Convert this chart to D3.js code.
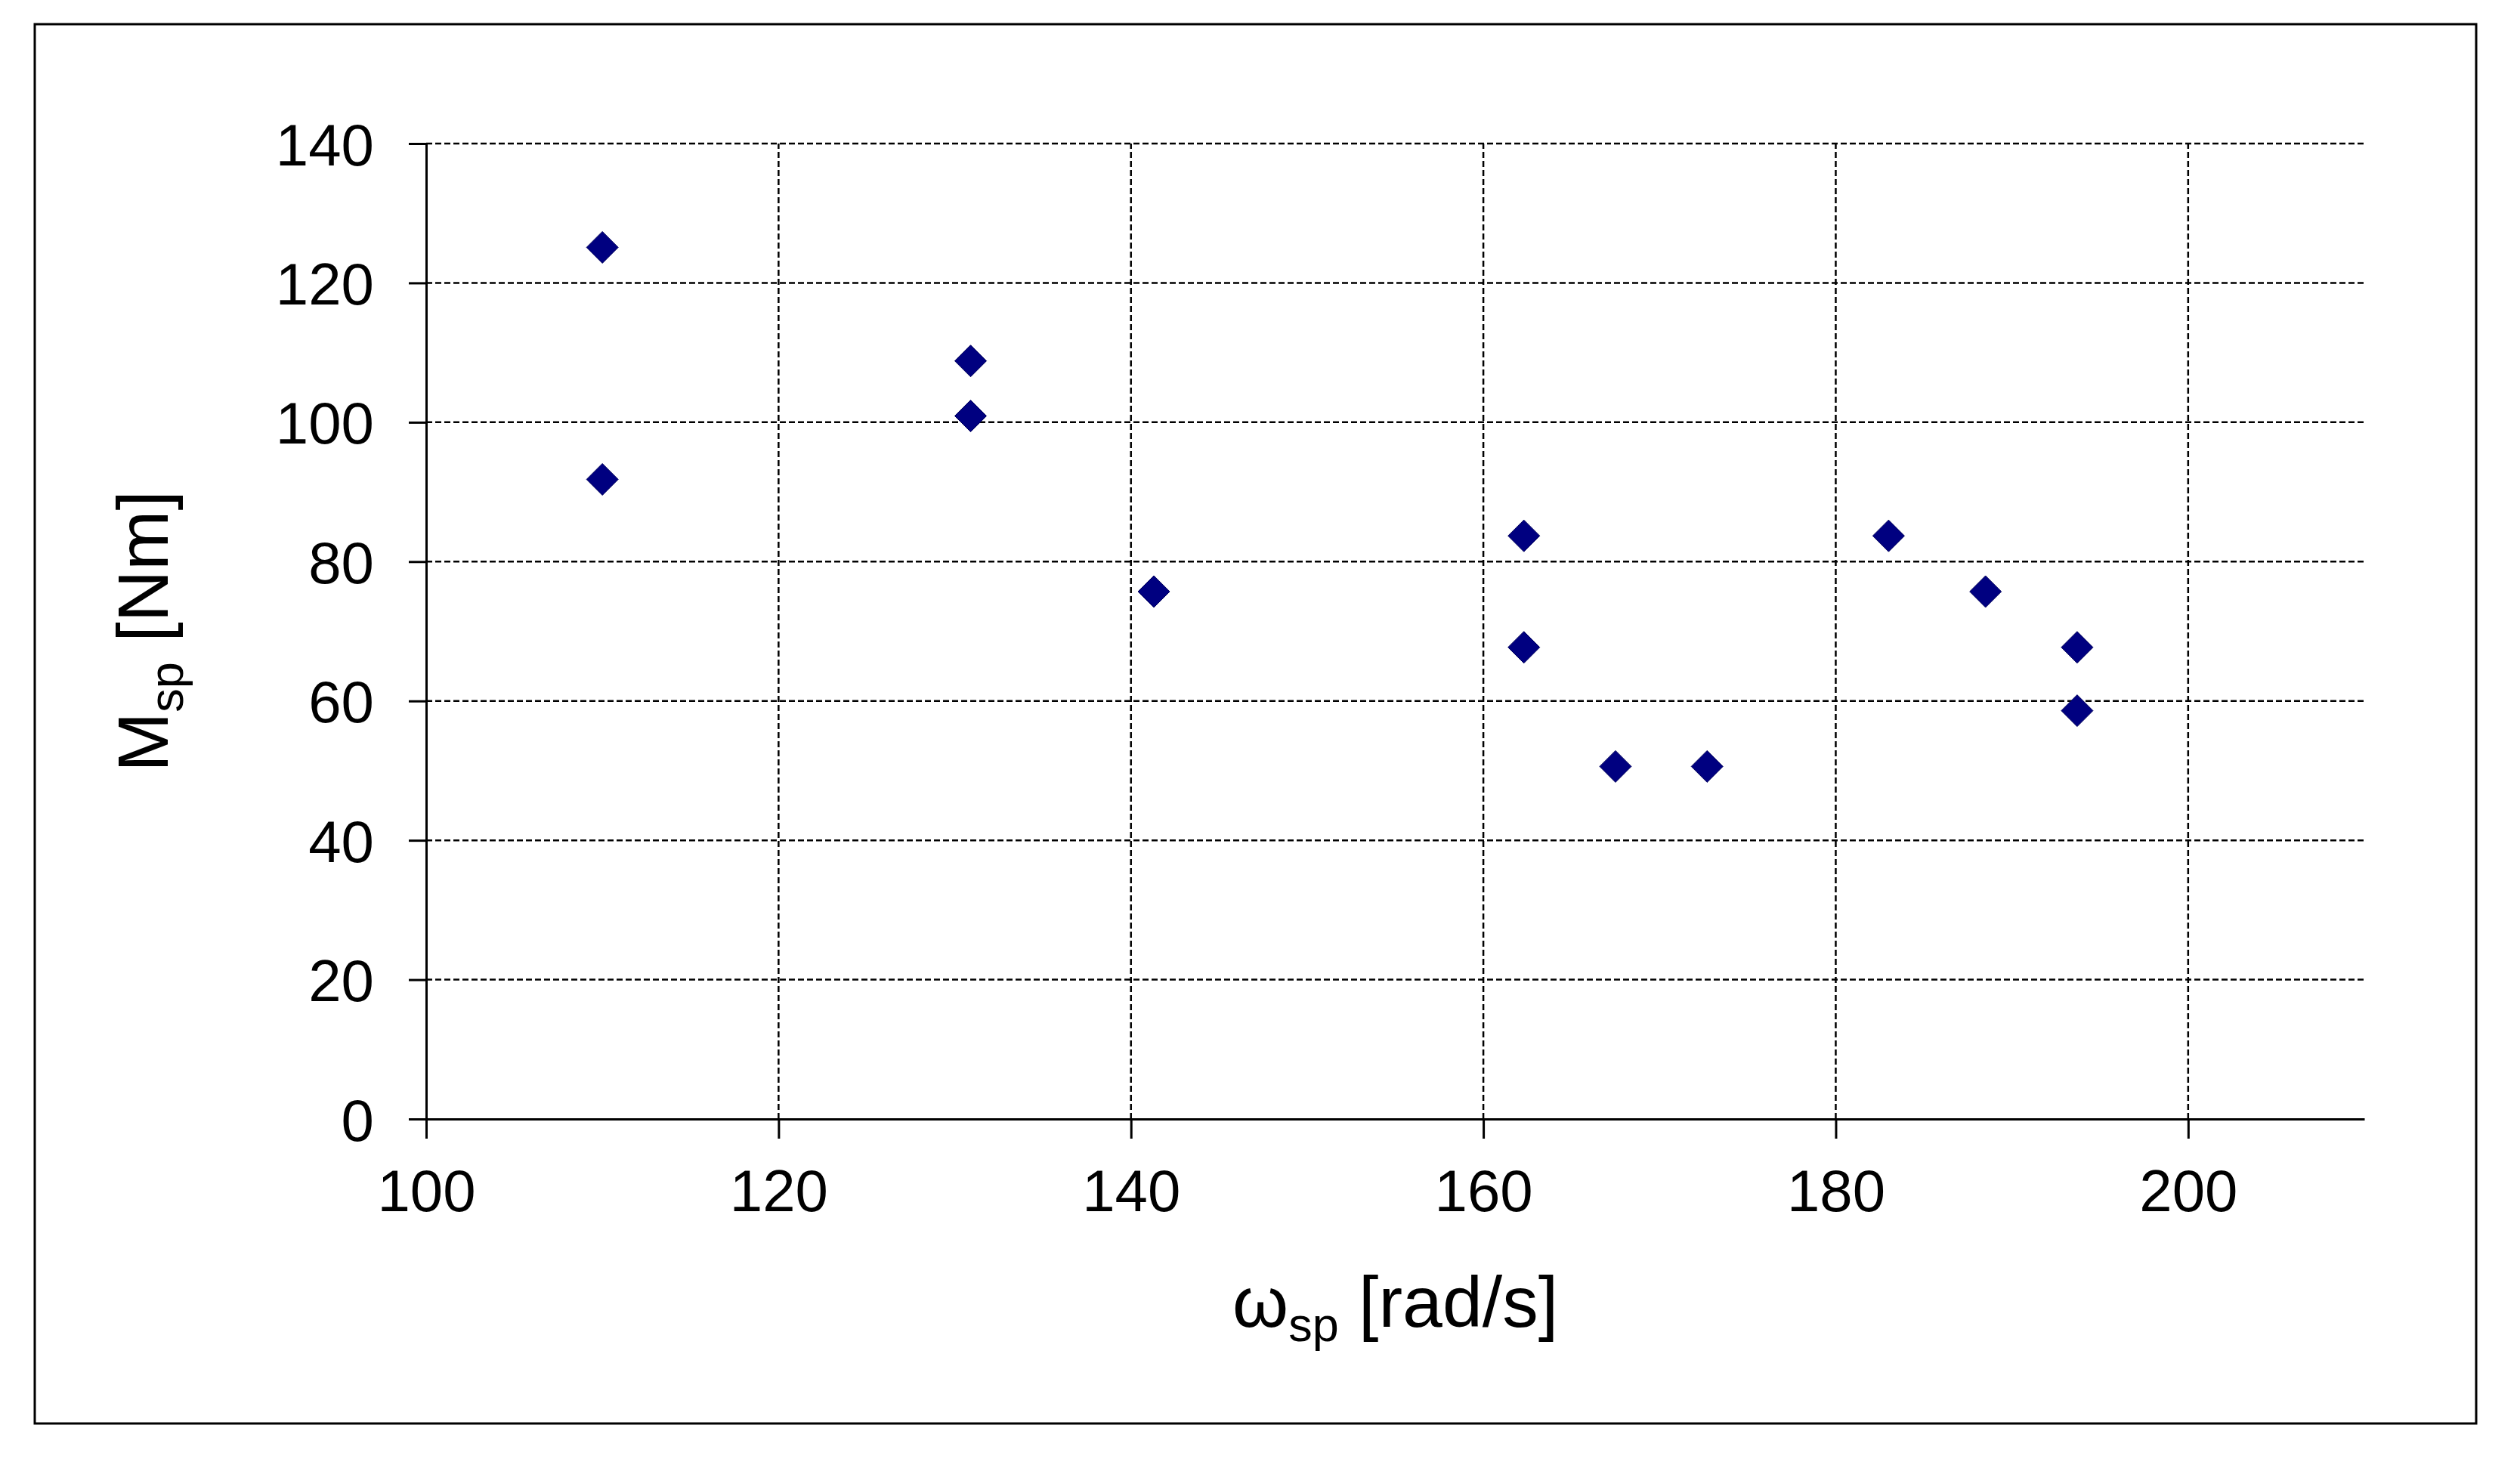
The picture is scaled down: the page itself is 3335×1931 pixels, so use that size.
<!DOCTYPE html>
<html>
<head>
<meta charset="utf-8">
<script src="https://cdn.jsdelivr.net/npm/d3@7"></script>
<style>
  body { margin: 0; background: #fff; }
  svg { display: block; }
</style>
</head>
<body>
<div id="chart"></div>
<script>
// data
var omega = [110.0, 110.0, 130.9, 130.9, 141.3, 162.3, 162.3, 167.5, 172.7, 183.0, 188.5, 193.7, 193.7];
var moment = [125.1, 91.8, 108.8, 100.9, 75.7, 83.7, 67.7, 50.6, 50.6, 83.7, 75.7, 67.7, 58.6];
var xTicks = [100, 120, 140, 160, 180, 200];
var yTicks = [0, 20, 40, 60, 80, 100, 120, 140];

var W = 3335, H = 1931;
var font = "'Liberation Sans', Arial, sans-serif";

var svg = d3.select("#chart").append("svg")
    .attr("width", W)
    .attr("height", H);

// outer frame
svg.append("rect")
    .attr("x", 46).attr("y", 32)
    .attr("width", 3277 - 46).attr("height", 1884 - 32)
    .attr("fill", "#fff")
    .attr("stroke", "#000")
    .attr("stroke-width", 3);

var x = d3.scaleLinear().domain([100, 210]).range([564, 3129]);
var y = d3.scaleLinear().domain([0, 140]).range([1481, 190]);

// dashed grid
svg.append("g").selectAll("line")
    .data(yTicks.filter(function(d) { return d > 0; }))
    .enter().append("line")
    .attr("x1", x(100)).attr("x2", x(210))
    .attr("y1", function(d) { return y(d); })
    .attr("y2", function(d) { return y(d); })
    .attr("stroke", "#000")
    .attr("stroke-width", 2.5)
    .attr("stroke-dasharray", "8,4");

svg.append("g").selectAll("line")
    .data(xTicks.filter(function(d) { return d > 100; }))
    .enter().append("line")
    .attr("y1", y(0)).attr("y2", y(140))
    .attr("x1", function(d) { return x(d); })
    .attr("x2", function(d) { return x(d); })
    .attr("stroke", "#000")
    .attr("stroke-width", 2.5)
    .attr("stroke-dasharray", "8,4");

// axes
var yAxis = svg.append("g")
    .attr("transform", "translate(" + x(100) + ",0)")
    .call(d3.axisLeft(y).tickValues(yTicks).tickSize(23).tickSizeOuter(0).tickPadding(46));

var xAxis = svg.append("g")
    .attr("transform", "translate(0," + y(0) + ")")
    .call(d3.axisBottom(x).tickValues(xTicks).tickSize(26).tickSizeOuter(0).tickPadding(41));

[xAxis, yAxis].forEach(function(a) {
    a.attr("font-family", font).attr("font-size", 78);
    a.selectAll("path, line").attr("stroke", "#000").attr("stroke-width", 3);
    a.selectAll("text").attr("fill", "#000");
});
yAxis.selectAll("text").attr("dy", "0.36em");

// markers
var diamond = "M0,-21L21,0L0,21L-21,0Z";
svg.append("g").selectAll("path")
    .data(omega)
    .enter().append("path")
    .attr("d", diamond)
    .attr("transform", function(d, i) {
        return "translate(" + x(d) + "," + y(moment[i]) + ")";
    })
    .attr("fill", "#000080")
    .attr("stroke", "#00005a")
    .attr("stroke-width", 1);

// axis titles
var xt = svg.append("text")
    .attr("x", (x(100) + x(210)) / 2)
    .attr("y", 1756)
    .attr("text-anchor", "middle")
    .attr("font-family", font)
    .attr("font-size", 95);
xt.append("tspan").text("ω");
xt.append("tspan").attr("font-size", 63).attr("dy", 19).text("sp");
xt.append("tspan").attr("dy", -19).text(" [rad/s]");

var yt = svg.append("text")
    .attr("transform", "translate(222," + (y(0) + y(140)) / 2 + ") rotate(-90)")
    .attr("text-anchor", "middle")
    .attr("font-family", font)
    .attr("font-size", 95);
yt.append("tspan").text("M");
yt.append("tspan").attr("font-size", 63).attr("dy", 20).text("sp");
yt.append("tspan").attr("dy", -20).text(" [Nm]");
</script>
</body>
</html>
